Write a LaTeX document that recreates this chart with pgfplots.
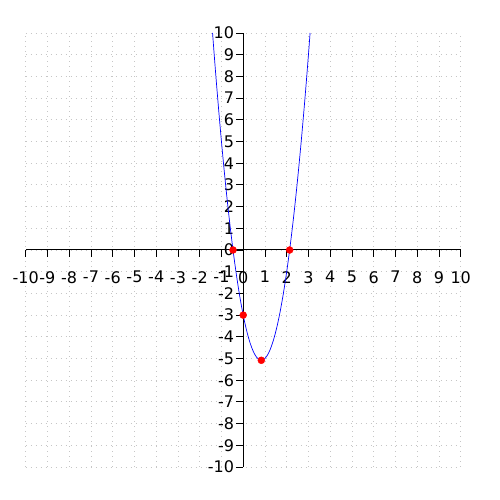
\documentclass[border=0pt]{standalone}
\usepackage{pgfplots}
\pgfplotsset{compat=1.18}
\usepackage{fontspec}
\setmainfont{DejaVu Sans}
\begin{document}
\begin{tikzpicture}
\begin{axis}[
  width=435pt, height=434pt, scale only axis,
  xmin=-10, xmax=10, ymin=-10, ymax=10,
  axis lines=middle,
  axis line style={-, black, line width=1pt},
  xtick={-10,...,10}, ytick={-10,...,10},
  hide obscured x ticks=false, hide obscured y ticks=false,
  tick align=outside,
  major tick length=7pt,
  tick style={black, line width=0.8pt},
  grid=major,
  grid style={dash pattern=on 1pt off 4pt, gray!45, line width=0.8pt},
  /pgf/number format/assume math mode=true,
  ticklabel style={font=\fontsize{16}{19}\selectfont},
  xticklabel style={inner sep=1pt, yshift=-13pt},
  yticklabel style={inner sep=1pt, xshift=-1pt},
  clip=false,
]
\addplot[blue, line width=0.7pt, smooth] coordinates {
(-1.409,10.0) (-1.3,8.57) (-1.2,7.32) (-1.1,6.13) (-1.0,5.0) (-0.9,3.93)
(-0.8,2.92) (-0.7,1.97) (-0.6,1.08) (-0.5,0.25) (-0.4,-0.52) (-0.3,-1.23)
(-0.2,-1.88) (-0.1,-2.47) (0,-3) (0.1,-3.47) (0.2,-3.88) (0.3,-4.23)
(0.4,-4.52) (0.5,-4.75) (0.6,-4.92) (0.7,-5.03) (0.8,-5.08) (0.9,-5.07)
(1.0,-5.0) (1.1,-4.87) (1.2,-4.68) (1.3,-4.43) (1.4,-4.12) (1.5,-3.75)
(1.6,-3.32) (1.7,-2.83) (1.8,-2.28) (1.9,-1.67) (2.0,-1.0) (2.1,-0.27)
(2.2,0.52) (2.3,1.37) (2.4,2.28) (2.5,3.25) (2.6,4.28) (2.7,5.37)
(2.8,6.52) (2.9,7.73) (3.0,9.0) (3.075,10.0)
};
\addplot[only marks, mark=*, mark size=3.5pt, red, mark options={draw=red, fill=red}] coordinates {
(-0.468,0) (0,-3) (0.833,-5.083) (2.135,0)
};
\end{axis}
\pgfresetboundingbox
\path[use as bounding box] (-25.7pt,-33pt) rectangle (474.3pt,467pt);
\end{tikzpicture}
\end{document}
